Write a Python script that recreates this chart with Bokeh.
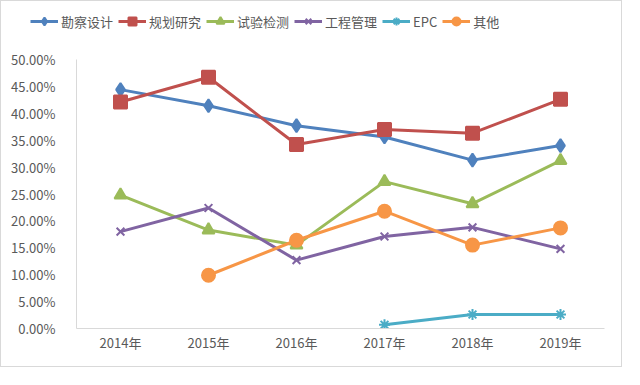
import math
from bokeh.plotting import figure
from bokeh.layouts import column
from bokeh.models import Legend, LegendItem, NumeralTickFormatter, FixedTicker, Range1d
from bokeh.embed import file_html
from bokeh.resources import INLINE

years = ["2014年", "2015年", "2016年", "2017年", "2018年", "2019年"]
nan = float("nan")
kancha = [0.444, 0.414, 0.377, 0.356, 0.313, 0.340]
guihua = [0.421, 0.467, 0.342, 0.370, 0.363, 0.426]
shiyan = [0.248, 0.183, 0.155, 0.273, 0.232, 0.312]
gongcheng = [0.180, 0.224, 0.127, 0.171, 0.188, 0.148]
epc = [nan, nan, nan, 0.007, 0.026, 0.026]
qita = [nan, 0.099, 0.164, 0.218, 0.155, 0.187]

names = ["勘察设计", "规划研究", "试验检测", "工程管理", "EPC", "其他"]
series = [kancha, guihua, shiyan, gongcheng, epc, qita]
colors = ["#4F81BD", "#C0504D", "#9BBB59", "#8064A2", "#4BACC6", "#F79646"]
markers = ["diamond", "square", "triangle", "x", "asterisk", "circle"]
sizes = [13, 13, 12, 11, 11, 13]

FONT = "Noto Sans CJK SC"
W = 620

# legend strip (no axes)
lf = figure(width=W, height=34, x_range=Range1d(0, 1), y_range=Range1d(0, 1),
            x_axis_location=None, y_axis_location=None,
            output_backend="svg", toolbar_location=None,
            min_border_left=29, min_border_right=0, min_border_top=10, min_border_bottom=0)
lf.grid.visible = False
lf.outline_line_color = None

# main chart
p = figure(width=W, height=331, x_range=years, y_range=Range1d(0, 0.5),
           output_backend="svg", toolbar_location=None,
           min_border_left=75, min_border_right=17, min_border_bottom=38, min_border_top=24)
p.outline_line_color = None
p.xgrid.grid_line_color = None
p.ygrid.grid_line_color = None

for fig in (lf, p):
    if "frame_align" in fig.properties():
        fig.frame_align = False

p.yaxis.ticker = FixedTicker(ticks=[i * 0.05 for i in range(11)])
p.yaxis.formatter = NumeralTickFormatter(format="0.00%")
p.yaxis.axis_line_color = "#d9d9d9"
p.yaxis.major_tick_line_color = None
p.yaxis.minor_tick_line_color = None
p.yaxis.major_label_text_color = "#595959"
p.yaxis.major_label_text_font = FONT
p.yaxis.major_label_text_font_size = "13px"
p.yaxis.major_label_standoff = 15

p.xaxis.axis_line_color = "#d9d9d9"
p.xaxis.major_tick_line_color = None
p.xaxis.major_label_text_color = "#595959"
p.xaxis.major_label_text_font = FONT
p.xaxis.major_label_text_font_size = "13px"
p.xaxis.major_label_standoff = -2

items = []
for name, vals, c, m, s in zip(names, series, colors, markers, sizes):
    xs = [y for y, v in zip(years, vals) if not math.isnan(v)]
    ys = [v for v in vals if not math.isnan(v)]
    p.line(xs, ys, line_color=c, line_width=3)
    p.scatter(xs, ys, marker=m, size=s, fill_color=c, line_color=c, line_width=2)
    # off-screen proxies that only carry the legend styling
    d1 = lf.line(x=[-10, -9], y=[-10, -10], line_color=c, line_width=3)
    d2 = lf.scatter(x=[-10], y=[-10], marker=m, size=s - 2, fill_color=c, line_color=c, line_width=2)
    items.append(LegendItem(label=name, renderers=[d1, d2]))

legend = Legend(items=items, orientation="horizontal", location="top_left",
                label_text_font=FONT, label_text_font_size="13px",
                label_text_color="#595959", border_line_color=None,
                background_fill_alpha=0,
                glyph_width=28, spacing=5, label_standoff=3, padding=1, margin=0)
lf.add_layout(legend, "center")

layout = column(lf, p, spacing=0)
layout.styles = {"border": "1px solid #d9d9d9"}

open("out.html", "w").write(file_html(layout, INLINE))
